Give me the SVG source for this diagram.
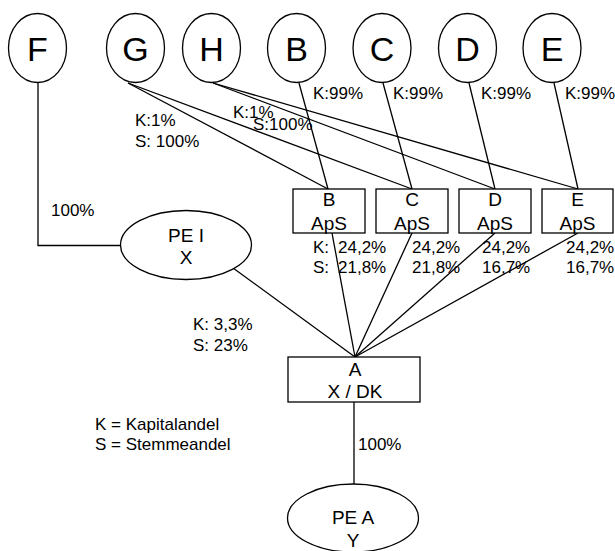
<svg xmlns="http://www.w3.org/2000/svg" width="615" height="551" viewBox="0 0 615 551">
  <style>
    .shape { fill: #fff; stroke: #000; stroke-width: 1.3; }
    .link { stroke: #000; stroke-width: 1.3; fill: none; }
    .big { font-family: "Liberation Sans", Arial, sans-serif; font-size: 34px; text-anchor: middle; fill: #000; }
    .mid { font-family: "Liberation Sans", Arial, sans-serif; font-size: 19px; text-anchor: middle; fill: #000; }
    .lbl { font-family: "Liberation Sans", Arial, sans-serif; font-size: 17px; fill: #000; }
  </style>
  <rect width="615" height="551" fill="#fff"/>

  <!-- ownership connectors -->
  <g id="connectors">
    <polyline class="link" points="38,83 38,245.5 121,245.5"/>
    <line class="link" x1="128" y1="83" x2="328" y2="189"/>
    <line class="link" x1="128" y1="83" x2="412" y2="189"/>
    <line class="link" x1="213" y1="83" x2="495" y2="189"/>
    <line class="link" x1="213" y1="83" x2="578" y2="189"/>
    <line class="link" x1="299" y1="83" x2="328" y2="189"/>
    <line class="link" x1="383" y1="83" x2="412" y2="189"/>
    <line class="link" x1="469" y1="83" x2="495" y2="189"/>
    <line class="link" x1="554" y1="83" x2="578" y2="189"/>
    <line class="link" x1="332" y1="233" x2="355" y2="357"/>
    <line class="link" x1="412" y1="233" x2="355" y2="357"/>
    <line class="link" x1="495" y1="233" x2="355" y2="357"/>
    <line class="link" x1="578" y1="233" x2="355" y2="357"/>
    <line class="link" x1="233" y1="268" x2="355" y2="357"/>
    <line class="link" x1="354" y1="402" x2="354" y2="484"/>
  </g>

  <!-- owners -->
  <g id="node-F"><ellipse class="shape" cx="37.5" cy="48" rx="29" ry="34.5"/><text class="big" x="37.5" y="61">F</text></g>
  <g id="node-G"><ellipse class="shape" cx="135.5" cy="48" rx="29" ry="34.5"/><text class="big" x="135.5" y="61">G</text></g>
  <g id="node-H"><ellipse class="shape" cx="211.5" cy="48" rx="29" ry="34.5"/><text class="big" x="211.5" y="61">H</text></g>
  <g id="node-B"><ellipse class="shape" cx="296.5" cy="48" rx="29" ry="34.5"/><text class="big" x="296.5" y="61">B</text></g>
  <g id="node-C"><ellipse class="shape" cx="382" cy="48" rx="29" ry="34.5"/><text class="big" x="382" y="61">C</text></g>
  <g id="node-D"><ellipse class="shape" cx="467.5" cy="48" rx="29" ry="34.5"/><text class="big" x="467.5" y="61">D</text></g>
  <g id="node-E"><ellipse class="shape" cx="552" cy="48" rx="29" ry="34.5"/><text class="big" x="552" y="61">E</text></g>

  <!-- holding companies -->
  <g id="box-B"><rect class="shape" x="293" y="189" width="72" height="44"/><text class="mid" x="329" y="206">B</text><text class="mid" x="329" y="230">ApS</text></g>
  <g id="box-C"><rect class="shape" x="376" y="189" width="72" height="44"/><text class="mid" x="412" y="206">C</text><text class="mid" x="412" y="230">ApS</text></g>
  <g id="box-D"><rect class="shape" x="459" y="189" width="72" height="44"/><text class="mid" x="495" y="206">D</text><text class="mid" x="495" y="230">ApS</text></g>
  <g id="box-E"><rect class="shape" x="542" y="189" width="71" height="44"/><text class="mid" x="577.5" y="206">E</text><text class="mid" x="577.5" y="230">ApS</text></g>

  <g id="node-PEI"><ellipse class="shape" cx="186" cy="245" rx="65.5" ry="34.5"/><text class="mid" x="186" y="241.5">PE I</text><text class="mid" x="186" y="264">X</text></g>
  <g id="node-A"><rect class="shape" x="288" y="357" width="132" height="45"/><text class="mid" x="355" y="375.5">A</text><text class="mid" x="355" y="398">X / DK</text></g>
  <g id="node-PEA"><ellipse class="shape" cx="353" cy="518" rx="65.5" ry="34"/><text class="mid" x="353" y="524">PE A</text><text class="mid" x="353" y="546.5">Y</text></g>

  <!-- share labels -->
  <g id="labels" class="lbl">
    <text x="313" y="99">K:99%</text>
    <text x="393" y="99">K:99%</text>
    <text x="481" y="99">K:99%</text>
    <text x="565" y="99">K:99%</text>
    <text x="135" y="126">K:1%</text>
    <text x="135" y="146.5">S: 100%</text>
    <text x="233" y="118">K:1%</text>
    <text x="253" y="130">S:100%</text>
    <text x="51" y="216">100%</text>
    <text y="253"><tspan x="313">K:</tspan><tspan x="338">24,2%</tspan></text>
    <text y="273"><tspan x="313">S:</tspan><tspan x="338">21,8%</tspan></text>
    <text x="412" y="253">24,2%</text>
    <text x="412" y="273">21,8%</text>
    <text x="482" y="253">24,2%</text>
    <text x="482" y="273">16,7%</text>
    <text x="566" y="253">24,2%</text>
    <text x="566" y="273">16,7%</text>
    <text x="193" y="330">K: 3,3%</text>
    <text x="193" y="350.5">S: 23%</text>
    <text x="95" y="430">K = Kapitalandel</text>
    <text x="95" y="450">S = Stemmeandel</text>
    <text x="358" y="450">100%</text>
  </g>
</svg>
